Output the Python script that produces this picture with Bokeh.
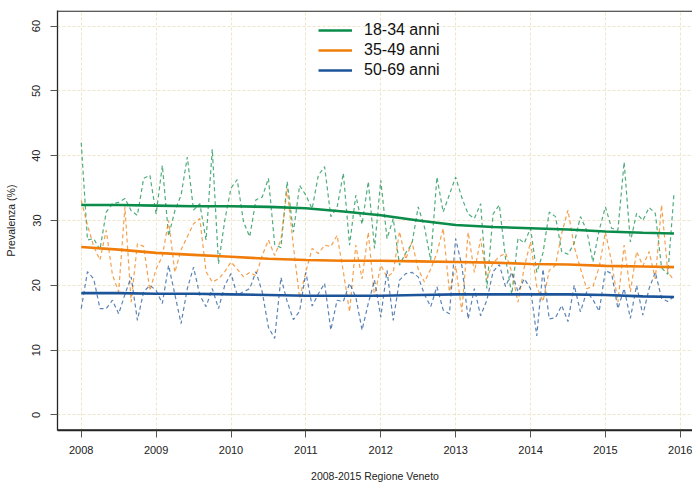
import numpy as np
from bokeh.plotting import figure
from bokeh.models import Range1d, FixedTicker, Legend, LegendItem, Span
from bokeh.embed import file_html
from bokeh.resources import INLINE

# ---- data (monthly prevalence %, Jan 2008 .. Dec 2015) ----
series_names = ["18-34 anni", "35-49 anni", "50-69 anni"]
start_year = 2008

green_18_34 = [42, 27, 27.2, 25.5, 31.3, 32.6, 32.8, 33.4, 31.5, 30.8,
               36.5, 37, 31, 38.5, 27.6, 31.5, 33.9, 39.8, 31.6, 32.6,
               27, 41, 23.3, 30, 35, 36.3, 29.8, 27.5, 33.2, 33.6,
               36.5, 26.3, 25.8, 36, 28.2, 35.4, 33.9, 31.8, 37, 38.3,
               30.6, 32, 37.3, 26.2, 33.9, 29.4, 36, 25.7, 36.2, 27.2,
               30.3, 23.1, 25, 26.4, 32.1, 29, 23.9, 36.7, 31.3, 34,
               36.7, 33.5, 31, 30.3, 32.6, 19.5, 31, 32.4, 24.1, 18.6,
               27.3, 26.5, 28.8, 22, 25, 31.3, 30.6, 25.2, 24.8, 26.5,
               30.6, 28.5, 23.6, 28.5, 32.1, 28.8, 28.5, 39, 26.7, 31.1,
               30, 32, 31.1, 22.7, 21.7, 34.3]

orange_35_49 = [33.1, 29.3, 26, 23.9, 28.5, 21.6, 19, 32.1, 17.4, 26.4,
                26, 19.2, 22.5, 24.5, 30, 22, 25.5, 27.5, 29.5, 30.3,
                22.1, 20.5, 21, 22.1, 23.6, 22.5, 21.3, 22, 21.5, 24.6,
                27, 24.6, 27, 34.9, 26, 18, 22.1, 25.7, 24.9, 26.2,
                26, 27.7, 22.1, 15.9, 26.2, 21, 28.2, 18.2, 23.1, 21.3,
                22, 28.3, 24, 26.7, 22.5, 20.5, 22.5, 25, 28.8, 19,
                23, 15.9, 28.2, 22, 27.2, 21, 23.5, 24.4, 25, 22,
                17.4, 22.8, 26.7, 19.8, 17.5, 22.3, 23.1, 28, 31.6, 26,
                22.6, 19.5, 19.8, 22.8, 28.2, 23.6, 17.4, 26.2, 19, 25.2,
                23, 25.2, 21, 32.4, 22, 20.8]

blue_50_69 = [16.4, 22.1, 21, 16.4, 16.4, 17.7, 15.6, 18.6, 21.3, 14.6,
              19, 20, 19.2, 17.2, 23.1, 18.6, 14.1, 19.5, 22.8, 18.5,
              16.7, 19.5, 16.4, 20, 21.8, 18.5, 19, 19.5, 22.1, 19,
              13.5, 11.8, 21.2, 17.5, 14.7, 16, 22, 16.8, 18.7, 20.3,
              13.1, 17.7, 17.5, 20.3, 18.2, 13.1, 17.2, 20.8, 15.1, 22.3,
              14.6, 20.8, 21.8, 22, 21.3, 18.6, 16.7, 19.8, 16.2, 15.6,
              27.2, 23, 14.8, 19.5, 15.3, 17.7, 22.1, 23.2, 19.8, 22,
              19, 21, 19.5, 12.2, 22.5, 14.8, 15, 16.9, 14.4, 20,
              15.9, 19, 17.8, 16, 22.3, 21.8, 16.4, 19.5, 14.9, 20,
              15.4, 19.5, 22, 18, 17.5, 18.3]

# smoothed trend, read at these month indices
trend_months = [0, 6, 12, 18, 24, 30, 36, 42, 48, 54, 60, 66, 72, 78, 84, 90, 95]
trend_18_34 = [32.4, 32.4, 32.3, 32.2, 32.2, 32.1, 31.9, 31.4, 30.8, 30.0,
               29.3, 29.0, 28.8, 28.6, 28.3, 28.1, 28.0]
trend_35_49 = [25.9, 25.5, 25.0, 24.7, 24.4, 24.1, 23.9, 23.8, 23.8, 23.7,
               23.6, 23.5, 23.3, 23.2, 23.0, 22.9, 22.8]
trend_50_69 = [18.8, 18.8, 18.7, 18.7, 18.6, 18.5, 18.4, 18.4, 18.4, 18.5,
               18.6, 18.6, 18.6, 18.6, 18.5, 18.3, 18.2]

x_ticks = list(range(2008, 2017))
y_ticks = list(range(0, 61, 10))

# ---- styles ----
colors = ["#0B8C4A", "#F07D0A", "#1C5499"]
FONT = "Liberation Sans"
GRID = "#EEE5CB"
BOX = "#262626"

raw = [green_18_34, orange_35_49, blue_50_69]
trends = [trend_18_34, trend_35_49, trend_50_69]

t = start_year + np.arange(len(green_18_34)) / 12.0
tt = start_year + np.array(trend_months) / 12.0

Y0, Y1 = -2.4, 62.4
p = figure(width=692, height=485, output_backend="svg", toolbar_location=None,
           x_range=Range1d(2007.683, 2016.163), y_range=Range1d(Y0, Y1),
           min_border_left=57, min_border_right=0, min_border_top=10,
           min_border_bottom=55)
p.outline_line_color = None
p.background_fill_color = "white"

for vals, c in zip(raw, colors):
    p.line(t, vals, line_color=c, line_width=1.2, line_dash="4 3", line_alpha=0.72)

trend_renderers = []
for vals, c in zip(trends, colors):
    r = p.line(tt, vals, line_color=c, line_width=2.6)
    trend_renderers.append(r)

# grid
p.xgrid.ticker = FixedTicker(ticks=x_ticks)
p.ygrid.ticker = FixedTicker(ticks=y_ticks)
for g in (p.xgrid, p.ygrid):
    g.grid_line_color = GRID
    g.grid_line_dash = "3 2"
    g.grid_line_width = 1

# axes
for ax in (p.xaxis, p.yaxis):
    ax.axis_line_color = BOX
    ax.axis_line_width = 1.3
    ax.major_tick_line_color = "#555555"
    ax.major_tick_out = 7
    ax.major_tick_in = 0
    ax.minor_tick_line_color = None
    ax.major_label_text_font = FONT
    ax.major_label_text_font_size = "11px"
    ax.major_label_text_color = "#222222"
    ax.axis_label_text_font = FONT
    ax.axis_label_text_font_style = "normal"
    ax.axis_label_text_font_size = "10.5px"
    ax.axis_label_text_color = "#222222"

p.xaxis.ticker = FixedTicker(ticks=x_ticks)
p.xaxis.major_label_standoff = 8
p.xaxis.axis_label = "2008-2015 Regione Veneto"
p.xaxis.axis_label_standoff = 13

p.yaxis.ticker = FixedTicker(ticks=y_ticks)
p.yaxis.major_label_orientation = "vertical"
p.yaxis.major_label_standoff = 10
p.yaxis.axis_label = "Prevalenza (%)"
p.yaxis.axis_label_standoff = 13

# box border (top and bottom), drawn just inside the frame
px = (Y1 - Y0) / 420.0
p.add_layout(Span(location=Y1 - 0.7 * px, dimension="width", line_color=BOX, line_width=1.3))
p.add_layout(Span(location=Y0 + 0.7 * px, dimension="width", line_color=BOX, line_width=1.3))

legend = Legend(items=[LegendItem(label=n, renderers=[r])
                       for n, r in zip(series_names, trend_renderers)],
                location=(261, 350))
legend.glyph_width = 34
legend.glyph_height = 20
legend.label_height = 20
legend.spacing = 0
legend.padding = 0
legend.margin = 0
legend.label_standoff = 12
legend.border_line_color = None
legend.background_fill_alpha = 0
legend.label_text_font = FONT
legend.label_text_font_size = "16px"
legend.label_text_color = "#111111"
p.add_layout(legend)

open("out.html", "w").write(file_html(p, INLINE))
